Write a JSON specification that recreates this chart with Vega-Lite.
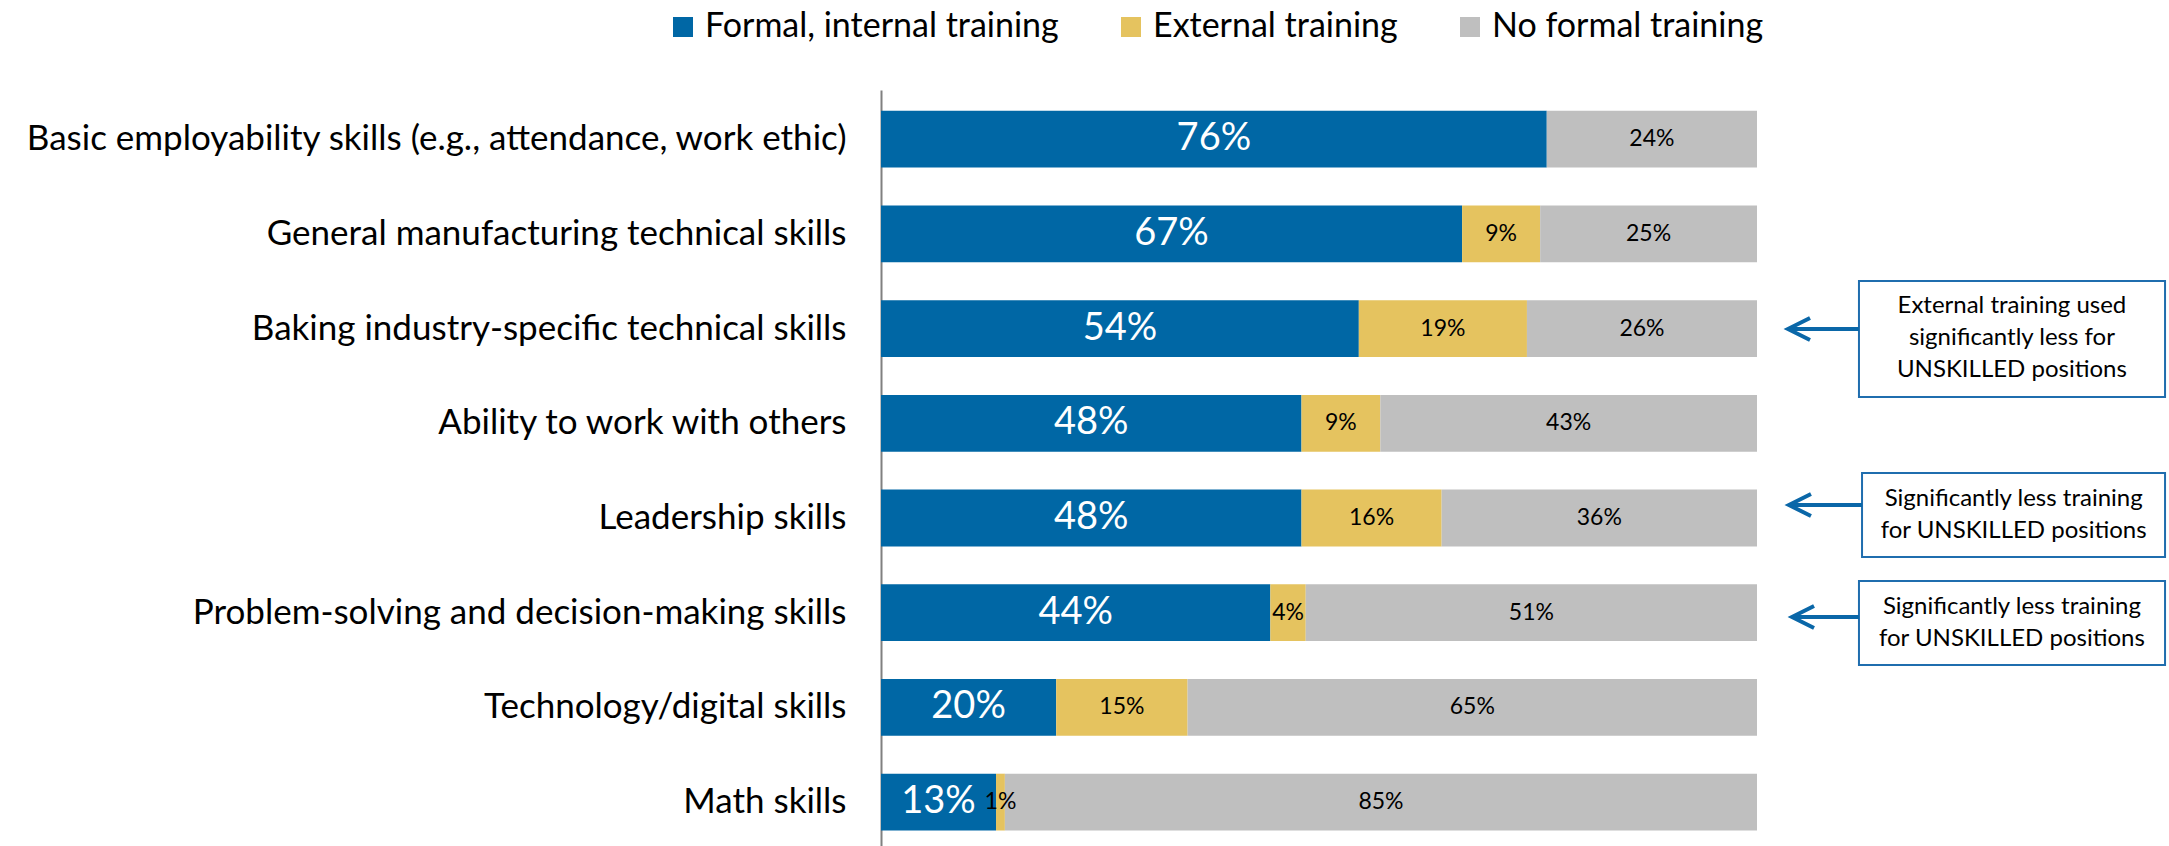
{
  "$schema": "https://vega.github.io/schema/vega-lite/v6.json",
  "width": 1288,
  "height": 756,
  "autosize": {"type": "none"},
  "padding": {"left": 881, "top": 90, "right": 0, "bottom": 0},
  "background": "white",
  "config": {"view": {"stroke": null}, "font": "Lato"},
  "datasets": {
    "bars": [
      {"skill": "Basic employability skills (e.g., attendance, work ethic)", "type": "Formal, internal training", "i": 0, "v": 0.76},
      {"skill": "Basic employability skills (e.g., attendance, work ethic)", "type": "No formal training", "i": 2, "v": 0.24},
      {"skill": "General manufacturing technical skills", "type": "Formal, internal training", "i": 0, "v": 0.67},
      {"skill": "General manufacturing technical skills", "type": "External training", "i": 1, "v": 0.09},
      {"skill": "General manufacturing technical skills", "type": "No formal training", "i": 2, "v": 0.25},
      {"skill": "Baking industry-specific technical skills", "type": "Formal, internal training", "i": 0, "v": 0.54},
      {"skill": "Baking industry-specific technical skills", "type": "External training", "i": 1, "v": 0.19},
      {"skill": "Baking industry-specific technical skills", "type": "No formal training", "i": 2, "v": 0.26},
      {"skill": "Ability to work with others", "type": "Formal, internal training", "i": 0, "v": 0.48},
      {"skill": "Ability to work with others", "type": "External training", "i": 1, "v": 0.09},
      {"skill": "Ability to work with others", "type": "No formal training", "i": 2, "v": 0.43},
      {"skill": "Leadership skills", "type": "Formal, internal training", "i": 0, "v": 0.48},
      {"skill": "Leadership skills", "type": "External training", "i": 1, "v": 0.16},
      {"skill": "Leadership skills", "type": "No formal training", "i": 2, "v": 0.36},
      {"skill": "Problem-solving and decision-making skills", "type": "Formal, internal training", "i": 0, "v": 0.44},
      {"skill": "Problem-solving and decision-making skills", "type": "External training", "i": 1, "v": 0.04},
      {"skill": "Problem-solving and decision-making skills", "type": "No formal training", "i": 2, "v": 0.51},
      {"skill": "Technology/digital skills", "type": "Formal, internal training", "i": 0, "v": 0.20},
      {"skill": "Technology/digital skills", "type": "External training", "i": 1, "v": 0.15},
      {"skill": "Technology/digital skills", "type": "No formal training", "i": 2, "v": 0.65},
      {"skill": "Math skills", "type": "Formal, internal training", "i": 0, "v": 0.13},
      {"skill": "Math skills", "type": "External training", "i": 1, "v": 0.01},
      {"skill": "Math skills", "type": "No formal training", "i": 2, "v": 0.85}
    ],
    "notes": [
      {"note": "External training used\nsignificantly less for\nUNSKILLED positions", "bx1": 1.1164, "bx2": 1.4658, "by1": 1.497, "by2": 2.722, "tx": 1.291, "ty": 1.761, "ax": 1.0354, "ay": 2.004},
      {"note": "Significantly less training\nfor UNSKILLED positions", "bx1": 1.1199, "bx2": 1.4658, "by1": 3.525, "by2": 4.412, "tx": 1.293, "ty": 3.799, "ax": 1.0365, "ay": 3.863},
      {"note": "Significantly less training\nfor UNSKILLED positions", "bx1": 1.1164, "bx2": 1.4658, "by1": 4.665, "by2": 5.552, "tx": 1.291, "ty": 4.94, "ax": 1.040, "ay": 5.046}
    ]
  },
  "layer": [
    {
      "data": {"name": "bars"},
      "transform": [
        {"stack": "v", "groupby": ["skill"], "sort": [{"field": "i", "order": "ascending"}], "offset": "normalize", "as": ["x0", "x1"]}
      ],
      "encoding": {
        "y": {
          "field": "skill", "type": "nominal",
          "sort": ["Basic employability skills (e.g., attendance, work ethic)", "General manufacturing technical skills", "Baking industry-specific technical skills", "Ability to work with others", "Leadership skills", "Problem-solving and decision-making skills", "Technology/digital skills", "Math skills"],
          "scale": {"paddingInner": 0.4, "paddingOuter": 0.1915, "align": 0.573},
          "axis": {"title": null, "domainColor": "#808080", "domainWidth": 2, "ticks": false, "grid": false, "labelFont": "Lato", "labelFontSize": 35, "labelColor": "#000000", "labelPadding": 35, "labelLimit": 1200}
        }
      },
      "layer": [
        {
          "mark": {"type": "bar"},
          "encoding": {
            "x": {"field": "x0", "type": "quantitative", "scale": {"domain": [0, 1.47032], "nice": false, "zero": false}, "axis": null},
            "x2": {"field": "x1"},
            "color": {
              "field": "type", "type": "nominal",
              "scale": {"domain": ["Formal, internal training", "External training", "No formal training"], "range": ["#0067A5", "#E5C35F", "#BFBFBF"]},
              "legend": {"orient": "none", "legendX": -215, "legendY": -80, "direction": "horizontal", "title": null, "symbolType": "square", "symbolSize": 400, "symbolStrokeWidth": 0, "labelFont": "Lato", "labelFontSize": 34, "labelColor": "#000000", "labelLimit": 1000, "columnPadding": 55, "labelOffset": 5, "padding": 0}
            }
          }
        },
        {
          "transform": [{"filter": "datum.i == 0"}, {"fold": ["x0", "x1"], "as": ["edge", "pos"]}],
          "mark": {"type": "text", "color": "#FFFFFF", "font": "Lato", "fontSize": 38, "baseline": "middle", "align": "center"},
          "encoding": {
            "x": {"field": "pos", "aggregate": "mean", "type": "quantitative", "scale": {"domain": [0, 1.47032], "nice": false, "zero": false}, "axis": null},
            "text": {"field": "v", "type": "quantitative", "format": ".0%"},
            "detail": {"field": "type"}
          }
        },
        {
          "transform": [{"filter": "datum.i != 0"}, {"fold": ["x0", "x1"], "as": ["edge", "pos"]}],
          "mark": {"type": "text", "color": "#000000", "font": "Lato", "fontSize": 23, "baseline": "middle", "align": "center"},
          "encoding": {
            "x": {"field": "pos", "aggregate": "mean", "type": "quantitative", "scale": {"domain": [0, 1.47032], "nice": false, "zero": false}, "axis": null},
            "text": {"field": "v", "type": "quantitative", "format": ".0%"},
            "detail": {"field": "type"}
          }
        }
      ]
    },
    {
      "data": {"name": "notes"},
      "layer": [
        {
          "mark": {"type": "rect", "fill": "#FFFFFF", "stroke": "#1F6DAE", "strokeWidth": 2},
          "encoding": {
            "x": {"field": "bx1", "type": "quantitative", "scale": {"domain": [0, 1.47032], "nice": false, "zero": false}, "axis": null},
            "x2": {"field": "bx2"},
            "y": {"field": "by1", "type": "quantitative", "scale": {"domain": [-0.5195, 7.4636], "nice": false, "zero": false, "reverse": true}, "axis": null},
            "y2": {"field": "by2"}
          }
        },
        {
          "mark": {"type": "rule", "stroke": "#0A67A8", "strokeWidth": 4},
          "encoding": {
            "x": {"field": "ax", "type": "quantitative", "scale": {"domain": [0, 1.47032], "nice": false, "zero": false}, "axis": null},
            "x2": {"field": "bx1"},
            "y": {"field": "ay", "type": "quantitative", "scale": {"domain": [-0.5195, 7.4636], "nice": false, "zero": false, "reverse": true}, "axis": null}
          }
        },
        {
          "mark": {"type": "point", "shape": "M1,-0.5L0,0L1,0.5", "filled": false, "stroke": "#0A67A8", "strokeWidth": 4, "size": 1936, "opacity": 1},
          "encoding": {
            "x": {"field": "ax", "type": "quantitative", "scale": {"domain": [0, 1.47032], "nice": false, "zero": false}, "axis": null},
            "y": {"field": "ay", "type": "quantitative", "scale": {"domain": [-0.5195, 7.4636], "nice": false, "zero": false, "reverse": true}, "axis": null}
          }
        },
        {
          "mark": {"type": "text", "font": "Lato", "fontSize": 24, "color": "#000000", "align": "center", "baseline": "middle", "lineBreak": "\n", "lineHeight": 32},
          "encoding": {
            "x": {"field": "tx", "type": "quantitative", "scale": {"domain": [0, 1.47032], "nice": false, "zero": false}, "axis": null},
            "y": {"field": "ty", "type": "quantitative", "scale": {"domain": [-0.5195, 7.4636], "nice": false, "zero": false, "reverse": true}, "axis": null},
            "text": {"field": "note", "type": "nominal"}
          }
        }
      ]
    }
  ],
  "resolve": {"scale": {"y": "independent"}, "axis": {"y": "independent"}}
}
